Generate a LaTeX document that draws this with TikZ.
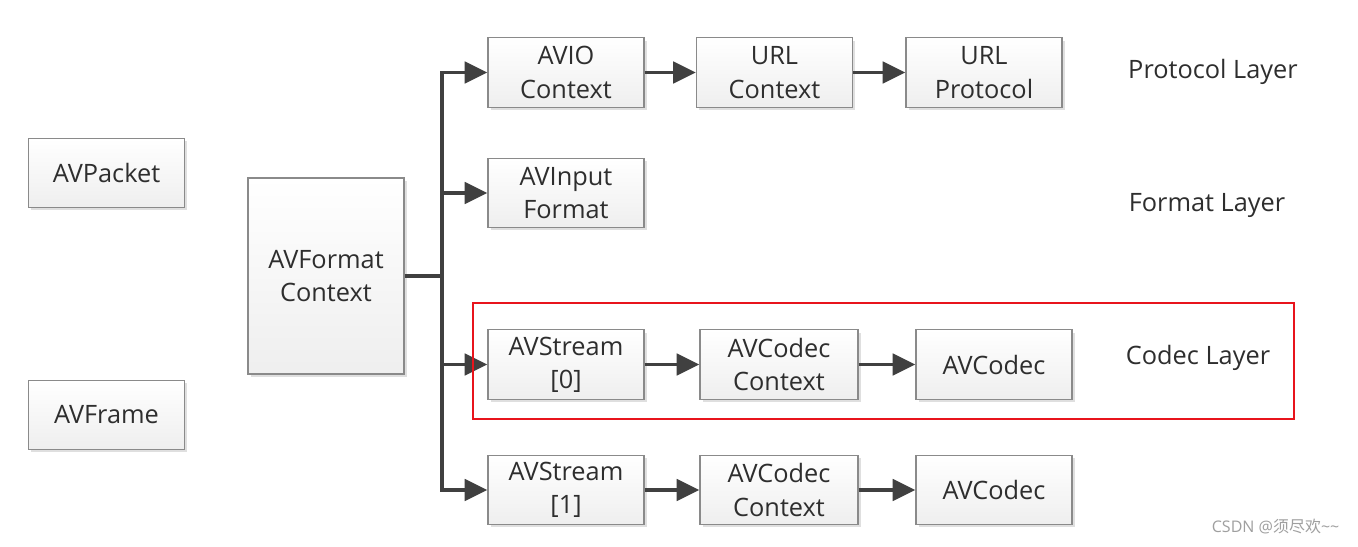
\documentclass[tikz,border=0pt]{standalone}
\usepackage{fontspec}
\setmainfont{Open Sans}
\newfontfamily\cjk{Noto Sans CJK SC}
\usetikzlibrary{arrows.meta,shadows}
\definecolor{linec}{HTML}{404040}
\definecolor{boxedge}{HTML}{8A8A8A}
\definecolor{txt}{HTML}{2E2E2E}
\definecolor{hlred}{HTML}{E8141C}
\tikzset{
  box/.style={draw=boxedge, line width=0.9pt, top color=white, bottom color=gray!13,
    minimum width=117pt, minimum height=52pt, align=center, inner sep=0pt,
    text=txt, font=\fontsize{19}{25}\selectfont,
    drop shadow={shadow xshift=2pt, shadow yshift=-2pt, opacity=0.35, fill=gray!70}},
  conn/.style={draw=linec, line width=2.8pt},
  arr/.style={conn, -{Triangle[length=17pt,width=16pt]}},
  layer/.style={text=txt, font=\fontsize{19}{25}\selectfont, anchor=center},
}
\begin{document}
\begin{tikzpicture}[x=0.75pt,y=-0.75pt]
\useasboundingbox[fill=white] (0,0) rectangle (1358,546);
% left boxes
\node[box] (pkt) at (106.5,173) {AVPacket};
\node[box] (frm) at (106.5,415) {AVFrame};
\node[box, minimum height=147pt] (afc) at (326,276) {AVFormat\\Context};
% protocol row
\node[box] (avio) at (566,72.5) {AVIO\\Context};
\node[box] (urlc) at (774.5,72.5) {URL\\Context};
\node[box] (urlp) at (984,72.5) {URL\\Protocol};
% format row
\node[box] (fmt) at (566,193) {AVInput\\Format};
% codec rows
\node[box] (s0) at (566,364.5) {AVStream\\{[0]}};
\node[box, minimum width=118.5pt] (cc0) at (779,364.5) {AVCodec\\Context};
\node[box] (c0) at (994,364.5) {AVCodec};
\node[box] (s1) at (566,490) {AVStream\\{[1]}};
\node[box, minimum width=118.5pt] (cc1) at (779,490) {AVCodec\\Context};
\node[box] (c1) at (994,490) {AVCodec};
% layer labels
\node[layer] (lp) at (1213,72) {Protocol Layer};
\node[layer] (lf) at (1207,205) {Format Layer};
\node[layer] (lc) at (1198,358) {Codec Layer};
% connectors
\coordinate (jm) at (442,276);
\coordinate (j2) at (442,193);
\coordinate (j3) at (442,364.5);
\draw[conn] (afc.east) -- (jm);
\draw[arr] (jm) |- (avio.west);
\draw[arr] (jm) |- (s1.west);
\draw[arr] (j2) -- (fmt.west);
\draw[arr] (j3) -- (s0.west);
\draw[arr] (avio) -- (urlc);
\draw[arr] (urlc) -- (urlp);
\draw[arr] (s0) -- (cc0);
\draw[arr] (cc0) -- (c0);
\draw[arr] (s1) -- (cc1);
\draw[arr] (cc1) -- (c1);
% red highlight
\node[draw=hlred, line width=1.9pt, minimum width=615.75pt, minimum height=87pt, inner sep=0pt] (hl) at (883.5,361) {};
% watermark
\node[text=gray!75, font=\fontsize{12}{14}\selectfont, anchor=east] (wm) at (1344,527) {CSDN @{\cjk 须尽欢}\textasciitilde\textasciitilde};
\end{tikzpicture}
\end{document}
